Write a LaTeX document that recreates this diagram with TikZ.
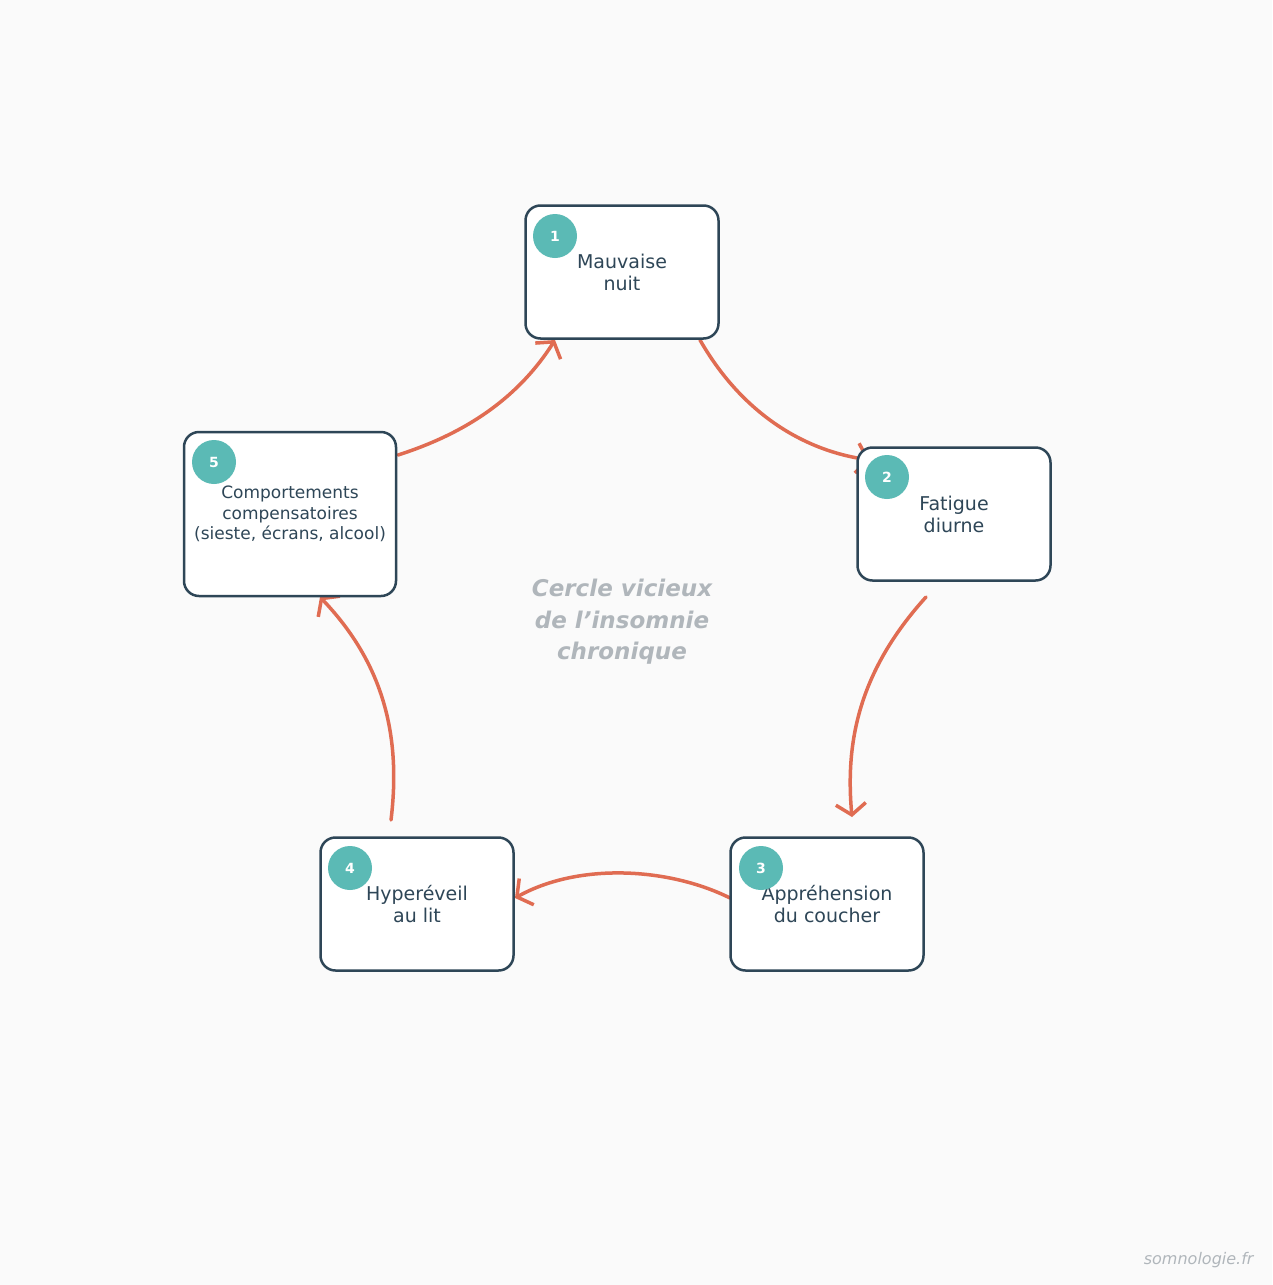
\documentclass[tikz,border=0pt]{standalone}
\usepackage{fontspec}
\setmainfont{DejaVu Sans}
\usetikzlibrary{arrows.meta}
\definecolor{bg}{HTML}{FAFAFA}
\definecolor{dark}{HTML}{2E4657}
\definecolor{teal}{HTML}{5BBAB5}
\definecolor{arr}{HTML}{E06C52}
\definecolor{gr}{HTML}{B0B6BB}
\begin{document}
\begin{tikzpicture}[x=1pt,y=-1pt,
  box/.style={draw=dark,line width=2.5pt,fill=white,rounded corners=15pt,minimum width=193pt,minimum height=133pt,align=center,text=dark,font=\fontsize{19}{22}\selectfont,inner sep=0pt},
  num/.style={circle,fill=teal,minimum size=44pt,inner sep=0pt,text=white,font=\fontsize{14}{16}\selectfont\bfseries},
  flow/.style={draw=arr,line width=3.5pt,line cap=round,-{Straight Barb[length=11pt,width=30pt,line width=3.5pt]}}]
\fill[bg] (0,0) rectangle (1272,1285);
\useasboundingbox (0,0) rectangle (1272,1285);
\coordinate (a1) at (700,340); \coordinate (b1) at (870,460);
\coordinate (a2) at (926,597); \coordinate (b2) at (852,817);
\coordinate (a3) at (730,898); \coordinate (b3) at (515,898);
\coordinate (a4) at (391,820); \coordinate (b4) at (320,597);
\coordinate (a5) at (398,455); \coordinate (b5) at (555,340);
\draw[flow] (a1) .. controls (740,410) and (800,450) .. (b1);
\draw[flow] (a2) .. controls (860,670) and (845,740) .. (b2);
\draw[flow] (a3) .. controls (670,868) and (580,862) .. (b3);
\draw[flow] (a4) .. controls (402,730) and (380,660) .. (b4);
\draw[flow] (a5) .. controls (470,432) and (520,395) .. (b5);
\node[box] (n1) at (622,272) {Mauvaise\\nuit};
\node[box] (n2) at (954,514) {Fatigue\\diurne};
\node[box] (n3) at (827,904) {Appréhension\\du coucher};
\node[box] (n4) at (417,904) {Hyperéveil\\au lit};
\node[box,minimum width=212pt,minimum height=164pt,font=\fontsize{17}{20.5}\selectfont] (n5) at (290,514) {Comportements\\compensatoires\\(sieste, écrans, alcool)};
\node[num] (c1) at (555,236) {1};
\node[num] (c2) at (887,477) {2};
\node[num] (c3) at (761,868) {3};
\node[num] (c4) at (350,868) {4};
\node[num] (c5) at (214,462) {5};
\node[align=center,text=gr,font=\fontsize{23}{31.5}\selectfont\bfseries\itshape] (t) at (622,622) {Cercle vicieux\\de l'insomnie\\chronique};
\node[anchor=east,text=gr,font=\fontsize{16}{18}\selectfont\itshape] (w) at (1257,1260) {somnologie.fr};
\end{tikzpicture}
\end{document}
